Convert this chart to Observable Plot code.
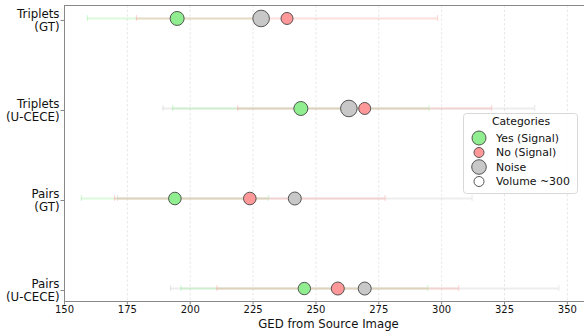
<!DOCTYPE html>
<html>
<head>
<meta charset="utf-8">
<script src="https://cdn.jsdelivr.net/npm/d3@7"></script>
<script src="https://cdn.jsdelivr.net/npm/@observablehq/plot@0.6"></script>
<style>
  html, body { margin: 0; padding: 0; background: white; }
  #wrap { position: relative; width: 584px; height: 335px; overflow: hidden; font-family: "DejaVu Sans", sans-serif; }
  #legend { position: absolute; left: 463px; top: 113px; }
</style>
</head>
<body>
<div id="wrap"></div>
<script>
const rows = ["Triplets\n(GT)", "Triplets\n(U-CECE)", "Pairs\n(GT)", "Pairs\n(U-CECE)"];
const categories = ["Yes (Signal)", "No (Signal)", "Noise"];
const colors = ["#90ee90", "#ff9999", "#c8c8c8"];
const xTicks = [150, 175, 200, 225, 250, 275, 300, 325, 350];

const yesMean = [194.8, 244.0, 193.9, 245.4];
const yesErr = [35.7, 51.0, 37.2, 49.1];
const yesVol = [486, 486, 394, 381];

const noMean = [238.5, 269.4, 223.7, 258.7];
const noErr = [59.9, 50.5, 53.8, 48.1];
const noVol = [357, 357, 394, 419];

const noiseMean = [228.2, 263.1, 241.6, 269.4];
const noiseErr = [3.0, 73.9, 70.5, 77.2];
const noiseVol = [683, 683, 419, 419];

const legendLabels = ["Yes (Signal)", "No (Signal)", "Noise", "Volume ~300"];
const legendFills = ["#90ee90", "#ff9999", "#c8c8c8", "#ffffff"];
const legendR = [7, 5, 7.3, 5];

const series = [
  {cat: categories[0], mean: yesMean, err: yesErr, vol: yesVol},
  {cat: categories[1], mean: noMean, err: noErr, vol: noVol},
  {cat: categories[2], mean: noiseMean, err: noiseErr, vol: noiseVol}
];
const data = [];
for (const s of series) {
  rows.forEach((row, i) => data.push({row, i, cat: s.cat, mean: s.mean[i], err: s.err[i], vol: s.vol[i]}));
}
const barOrder = ["Noise", "Yes (Signal)", "No (Signal)"];
const bars = barOrder.flatMap(c => data.filter(d => d.cat === c));
const rowIdx = rows.map((r, i) => i);

const chart = Plot.plot({
  width: 584,
  height: 335,
  marginLeft: 64,
  marginRight: -8,
  marginTop: 5,
  marginBottom: 34,
  x: {domain: [150, 360]},
  y: {domain: [rows.length - 1 + 0.144, -0.144]},
  color: {domain: categories, range: colors},
  r: {domain: [0, 700], range: [0, 8.4]},
  style: {fontFamily: "DejaVu Sans, sans-serif", color: "#111", background: "white"},
  marks: [
    Plot.gridX(xTicks, {stroke: "#e2e2e2", strokeOpacity: 1, strokeWidth: 0.8, strokeDasharray: "2.5,2"}),
    Plot.ruleY(bars, {y: "i", x1: d => d.mean - d.err, x2: d => d.mean + d.err, stroke: "cat", strokeOpacity: 0.32, strokeWidth: 2}),
    Plot.ruleX(bars, {x: d => d.mean - d.err, y1: "i", y2: "i", stroke: "cat", strokeOpacity: 0.4, strokeWidth: 1.1, insetTop: -3, insetBottom: -3}),
    Plot.ruleX(bars, {x: d => d.mean + d.err, y1: "i", y2: "i", stroke: "cat", strokeOpacity: 0.4, strokeWidth: 1.1, insetTop: -3, insetBottom: -3}),
    Plot.dot(data, {x: "mean", y: "i", r: "vol", fill: "cat", stroke: "#444", strokeWidth: 0.9}),
    Plot.frame({stroke: "#888", strokeWidth: 1}),
    Plot.axisX(xTicks, {tickSize: 3.5, tickPadding: 1, fontSize: 10, label: null, stroke: "#888"}),
    Plot.axisY(rowIdx, {tickSize: 3.5, tickPadding: 1.5, fontSize: 11.8, lineHeight: 1.12, label: null, stroke: "#888", dy: 2, tickFormat: i => rows[i]}),
    Plot.text(["GED from Source Image"], {frameAnchor: "bottom", dy: 26, fontSize: 11.7, fill: "#111"})
  ]
});
document.getElementById("wrap").appendChild(chart);

// legend
const lw = 114, lh = 80;
const leg = d3.create("svg").attr("id", "legend").attr("width", lw + 2).attr("height", lh + 2)
  .style("font-family", "DejaVu Sans, sans-serif");
leg.append("rect").attr("x", 0.5).attr("y", 0.5).attr("width", lw).attr("height", lh)
  .attr("rx", 3).attr("fill", "rgba(255,255,255,0.85)").attr("stroke", "#d8d8d8");
leg.append("text").attr("x", lw / 2 + 1).attr("y", 8.5).attr("dy", "0.35em")
  .attr("text-anchor", "middle").attr("font-size", 10.8).attr("fill", "#111").text("Categories");
legendLabels.forEach((lab, i) => {
  const cy = 25 + i * 14.5;
  leg.append("circle").attr("cx", 16).attr("cy", cy).attr("r", legendR[i])
    .attr("fill", legendFills[i]).attr("stroke", "#444").attr("stroke-width", 0.9);
  leg.append("text").attr("x", 33).attr("y", cy).attr("dy", "0.35em")
    .attr("font-size", 10.9).attr("fill", "#111").text(lab);
});
document.getElementById("wrap").appendChild(leg.node());
</script>
</body>
</html>
